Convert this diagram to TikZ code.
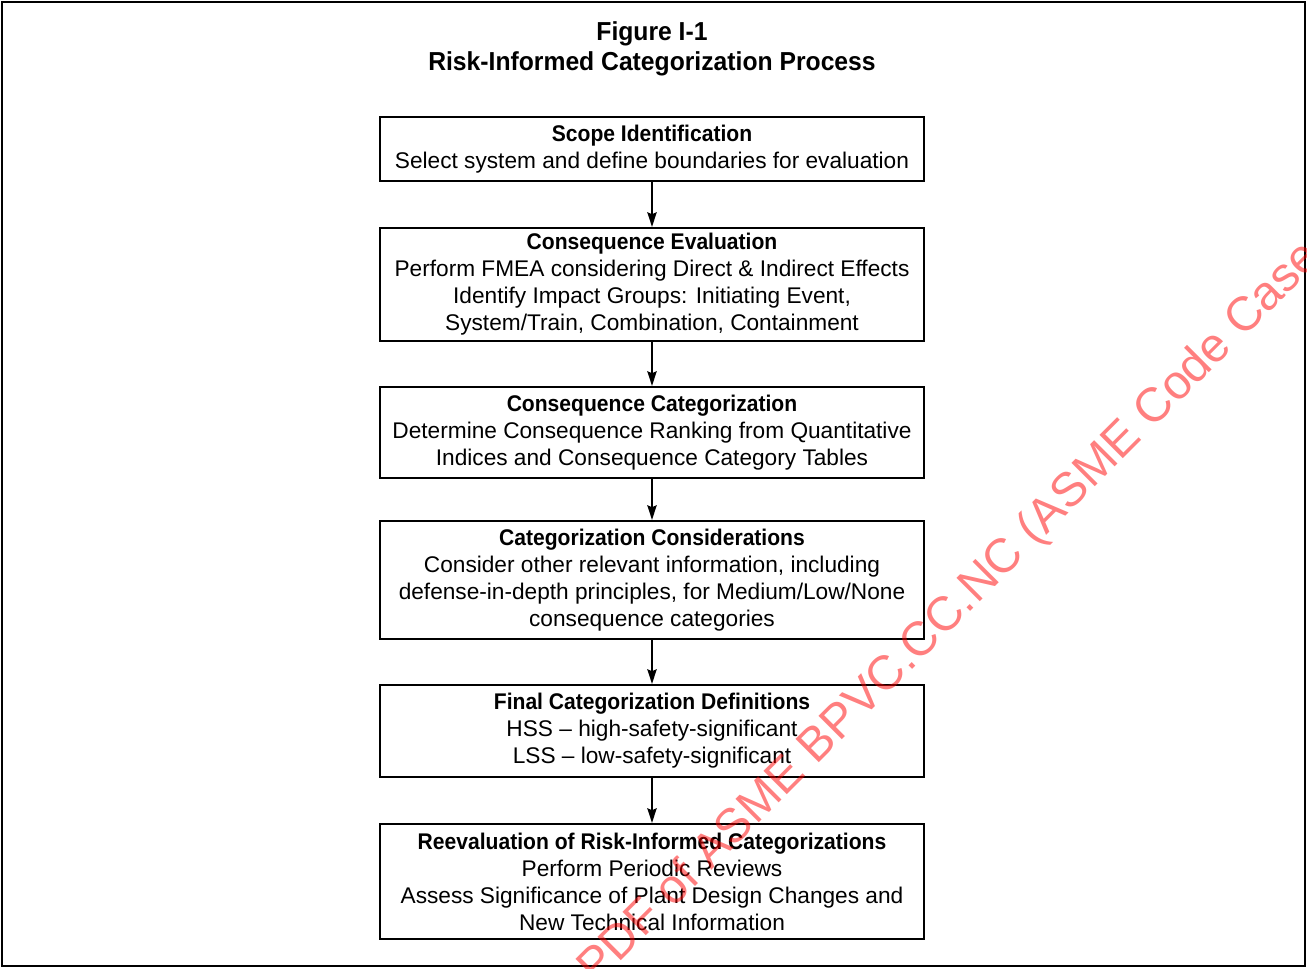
\documentclass[tikz,border=0pt]{standalone}
\usepackage{fontspec}
\setmainfont{Liberation Sans}
\newfontfamily\titlefont[FakeStretch=0.95]{Liberation Sans}
\newfontfamily\headfont[FakeStretch=0.93]{Liberation Sans}
\newcommand{\stagehead}[1]{{\headfont\bfseries #1}}
\usetikzlibrary{arrows.meta}

\tikzset{
  stagebox/.style={draw, line width=1.6pt, minimum width=408pt, inner sep=0pt,
    align=center, font=\fontsize{17}{20.25}\selectfont},
  flow/.style={line width=1.4pt, -{Stealth[length=11pt,width=7pt,inset=1.5pt]}},
  stamp/.style={text=red, text opacity=0.5, font=\fontsize{36}{40}\selectfont,
    inner sep=0pt, rotate=45, anchor=base west},
}

\begin{document}
\begin{tikzpicture}[x=0.75pt, y=-0.75pt]
    \useasboundingbox (0,0) rectangle (1307,968);
    \draw[line width=1.6pt] (2,2) rectangle (1305,966);
    \node[align=center, font=\titlefont\bfseries\fontsize{19.5}{22.5}\selectfont] (title) at (652,49)
        {Figure I-1\\Risk-Informed Categorization Process};
    % process steps
    \node[stagebox, minimum height=48pt] (scope) at (652,149)
        {\stagehead{Scope Identification}\\Select system and define boundaries for evaluation};
    \node[stagebox, minimum height=84.75pt] (evaluation) at (652,284.5)
        {\stagehead{Consequence Evaluation}\\Perform FMEA considering Direct \& Indirect Effects\\
         Identify Impact Groups: Initiating Event,\\System/Train, Combination, Containment};
    \node[stagebox, minimum height=68.25pt] (categorization) at (652,432.5)
        {\stagehead{Consequence Categorization}\\Determine Consequence Ranking from Quantitative\\
         Indices and Consequence Category Tables};
    \node[stagebox, minimum height=88.5pt] (considerations) at (652,580)
        {\stagehead{Categorization Considerations}\\Consider other relevant information, including\\
         defense-in-depth principles, for Medium/Low/None\\consequence categories};
    \node[stagebox, minimum height=69pt] (finaldef) at (652,731)
        {\stagehead{Final Categorization Definitions}\\HSS -- high-safety-significant\\
         LSS -- low-safety-significant};
    \node[stagebox, minimum height=86.25pt] (reeval) at (652,881.5)
        {\stagehead{Reevaluation of Risk-Informed Categorizations}\\Perform Periodic Reviews\\
         Assess Significance of Plant Design Changes and\\New Technical Information};
    % arrows
    \draw[flow] (scope) -- (evaluation);
    \draw[flow] (evaluation) -- (categorization);
    \draw[flow] (categorization) -- (considerations);
    \draw[flow] (considerations) -- (finaldef);
    \draw[flow] (finaldef) -- (reeval);
    % watermark
    \node[stamp] (mark) at (596,986) {PDF of ASME BPVC.CC.NC (ASME Code Case};
\end{tikzpicture}
\end{document}
